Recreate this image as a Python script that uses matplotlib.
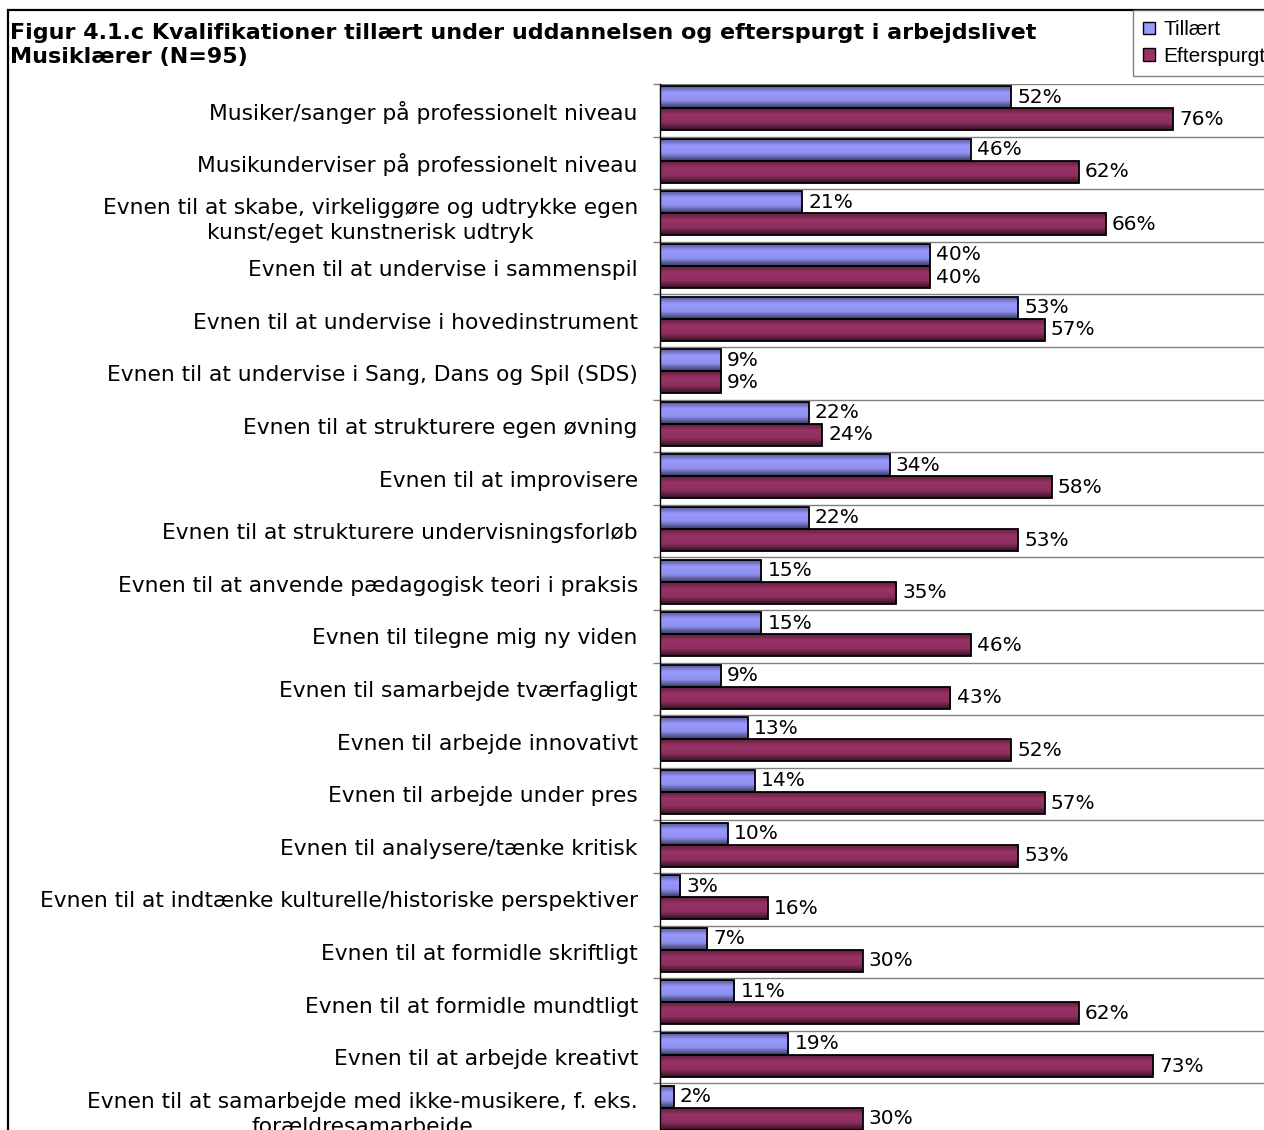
import matplotlib
matplotlib.use('Agg')
import matplotlib.pyplot as plt
import numpy as np
from matplotlib.colors import LinearSegmentedColormap
from matplotlib.patches import Rectangle, Patch

# data
categories = [
    'Musiker/sanger på professionelt niveau',
    'Musikunderviser på professionelt niveau',
    'Evnen til at skabe, virkeliggøre og udtrykke egen\nkunst/eget kunstnerisk udtryk',
    'Evnen til at undervise i sammenspil',
    'Evnen til at undervise i hovedinstrument',
    'Evnen til at undervise i Sang, Dans og Spil (SDS)',
    'Evnen til at strukturere egen øvning',
    'Evnen til at improvisere',
    'Evnen til at strukturere undervisningsforløb',
    'Evnen til at anvende pædagogisk teori i praksis',
    'Evnen til tilegne mig ny viden',
    'Evnen til samarbejde tværfagligt',
    'Evnen til arbejde innovativt',
    'Evnen til arbejde under pres',
    'Evnen til analysere/tænke kritisk',
    'Evnen til at indtænke kulturelle/historiske perspektiver',
    'Evnen til at formidle skriftligt',
    'Evnen til at formidle mundtligt',
    'Evnen til at arbejde kreativt',
    'Evnen til at samarbejde med ikke-musikere, f. eks.\nforældresamarbejde',
]
tillaert = [52, 46, 21, 40, 53, 9, 22, 34, 22, 15, 15, 9, 13, 14, 10, 3, 7, 11, 19, 2]
efterspurgt = [76, 62, 66, 40, 57, 9, 24, 58, 53, 35, 46, 43, 52, 57, 53, 16, 30, 62, 73, 30]
series_names = ['Tillært', 'Efterspurgt']

title = ('Figur 4.1.c Kvalifikationer tillært under uddannelsen og efterspurgt i arbejdslivet\n'
         'Musiklærer (N=95)')

W, H = 1264, 1130
fig = plt.figure(figsize=(W / 100, H / 100), dpi=100)

# plot area runs a little past the right and bottom edges like the cropped original
ax = fig.add_axes([660 / W, 1 - 1136 / H, (W - 660) / W, 1052 / H])

n = len(categories)
y = np.arange(n)
bh = 0.42
blue_cmap = LinearSegmentedColormap.from_list('b', ['#50508a', '#9999ff', '#9090f0', '#38385f'])
red_cmap = LinearSegmentedColormap.from_list('r', ['#561c39', '#993366', '#8f305f', '#361124'])

bars_b = ax.barh(y - 0.25, tillaert, height=bh, facecolor='none', edgecolor='black', linewidth=1.3, zorder=3)
bars_r = ax.barh(y + 0.17, efterspurgt, height=bh, facecolor='none', edgecolor='black', linewidth=1.3, zorder=3)

grad = np.linspace(0, 1, 64).reshape(-1, 1)
for bars, cmap in [(bars_b, blue_cmap), (bars_r, red_cmap)]:
    for p in bars:
        x0, y0 = p.get_x(), p.get_y()
        w, h = p.get_width(), p.get_height()
        im = ax.imshow(grad, cmap=cmap, aspect='auto', extent=[x0, x0 + w, y0 + h, y0],
                       interpolation='bicubic', zorder=2)
        im.set_clip_path(p)

for bars, vals in [(bars_b, tillaert), (bars_r, efterspurgt)]:
    for p, v in zip(bars, vals):
        ax.annotate(f'{v}%', (p.get_width(), p.get_y() + p.get_height() / 2),
                    xytext=(4.5, 0), textcoords='offset points', va='center', ha='left',
                    fontsize=14.5, color='black')

ax.set_xlim(0, (W - 660) / 6.75)
ax.set_ylim(n - 0.5, -0.5)

# category boundaries: gridlines + outward ticks
ax.set_yticks(np.arange(n + 1) - 0.5)
ax.set_yticklabels([])
ax.tick_params(axis='y', which='major', length=5, color='#808080', width=1)
ax.set_yticks(y, minor=True)
ax.set_yticklabels(categories, minor=True, fontsize=15.7, linespacing=1.32, multialignment='center')
ax.tick_params(axis='y', which='minor', length=0, pad=16)
for b in np.arange(n + 1) - 0.5:
    ax.axhline(b, color='#808080', linewidth=1, zorder=1)

ax.set_xticks([])
for s in ['top', 'right', 'bottom']:
    ax.spines[s].set_visible(False)
ax.spines['left'].set_color('black')
ax.spines['left'].set_linewidth(1)

# outer frame of the figure
fig.patches.append(Rectangle((8 / W, -0.1), 1.2, 1.1 - 10 / H, transform=fig.transFigure,
                             fill=False, edgecolor='black', linewidth=1.6))

fig.text(10 / W, 1 - 45 / H, title, fontsize=16, fontweight='bold', ha='left', va='center',
         linespacing=1.3)

handles = [Patch(facecolor='#9999ff', edgecolor='black'), Patch(facecolor='#993366', edgecolor='black')]
leg = fig.legend(handles, series_names, loc='upper left', bbox_to_anchor=(1133 / W, 1 - 10 / H),
                 prop={'family': 'Liberation Sans', 'size': 15}, frameon=True, fancybox=False,
                 handlelength=0.55, handleheight=0.55, handletextpad=0.4, borderpad=0.5,
                 labelspacing=0.35, borderaxespad=0)
leg.get_frame().set_edgecolor('#606060')
leg.get_frame().set_linewidth(1)

fig.savefig('out.png', dpi=100)
